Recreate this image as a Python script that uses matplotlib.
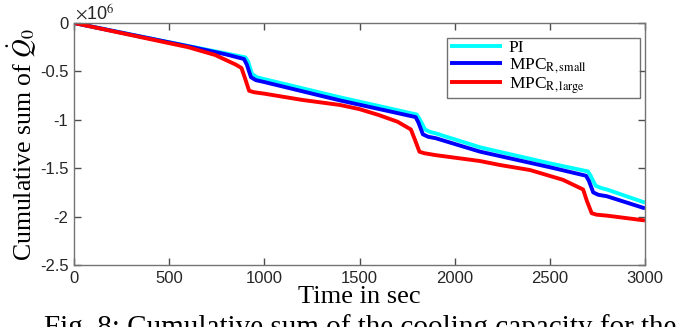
import matplotlib
matplotlib.use("Agg")
import matplotlib.pyplot as plt
import numpy as np

plt.rcParams['mathtext.fontset'] = 'stix'

# values in units of 1e6
t_pi = [0, 300, 600, 800, 900, 915, 935, 960, 1000, 1398, 1800, 1815, 1844, 1870, 1900, 2133, 2500, 2700, 2715, 2740, 2770, 2800, 3000]
q_pi = [0, -0.12, -0.238, -0.315, -0.355, -0.40, -0.525, -0.56, -0.58, -0.768, -0.945, -0.99, -1.10, -1.125, -1.14, -1.284, -1.45, -1.533, -1.58, -1.68, -1.705, -1.72, -1.856]

t_small = [0, 300, 600, 800, 893, 908, 930, 955, 1000, 1398, 1795, 1810, 1833, 1860, 1900, 2133, 2500, 2690, 2705, 2728, 2755, 2800, 3000]
q_small = [0, -0.12, -0.24, -0.325, -0.372, -0.43, -0.56, -0.59, -0.61, -0.80, -0.972, -1.03, -1.15, -1.175, -1.19, -1.329, -1.49, -1.578, -1.63, -1.75, -1.775, -1.79, -1.915]

t_large = [0, 300, 600, 741, 850, 880, 900, 920, 945, 1000, 1200, 1398, 1500, 1600, 1700, 1770, 1790, 1815, 1840, 1900, 2133, 2238, 2396, 2569, 2675, 2695, 2720, 2745, 2800, 3000]
q_large = [0, -0.125, -0.25, -0.33, -0.43, -0.465, -0.58, -0.70, -0.715, -0.73, -0.795, -0.847, -0.89, -0.95, -1.02, -1.10, -1.20, -1.33, -1.345, -1.365, -1.426, -1.467, -1.519, -1.62, -1.72, -1.84, -1.965, -1.98, -1.99, -2.04]

labels = ['PI', r'MPC$_{\mathrm{R,small}}$', r'MPC$_{\mathrm{R,large}}$']
colors = ['#00FFFF', '#0000FF', '#FF0000']

xticks = [0, 500, 1000, 1500, 2000, 2500, 3000]
yticks = [0, -0.5, -1, -1.5, -2, -2.5]
yticklabels = ['0', '-0.5', '-1', '-1.5', '-2', '-2.5']

fig = plt.figure(figsize=(6.92, 3.27), dpi=100)
ax = fig.add_axes([74/692, 1-265/327, (645-74)/692, (265-23)/327])

for t, q, lab, c in zip([t_pi, t_small, t_large], [q_pi, q_small, q_large], labels, colors):
    ax.plot(t, q, color=c, lw=2.8, label=lab, solid_joinstyle='round', solid_capstyle='butt')

ax.set_xlim(0, 3000)
ax.set_ylim(-2.5, 0)
ax.set_xticks(xticks)
ax.set_yticks(yticks)
ax.set_yticklabels(yticklabels)
for lbl in ax.get_xticklabels() + ax.get_yticklabels():
    lbl.set_fontfamily('Liberation Sans')
    lbl.set_fontsize(12)
ax.tick_params(direction='in', top=True, right=True, length=5, width=1, colors='0.3',
               labelcolor='#262626', pad=4)
for s in ax.spines.values():
    s.set_color('0.45')
    s.set_linewidth(1)

ax.set_xlabel('Time in sec', family='Liberation Serif', fontsize=19, labelpad=0)
ax.set_ylabel(r'Cumulative sum of $\dot{Q}_0$', family='Liberation Serif', fontsize=18.5, labelpad=1)

ax.text(0.002, 1.0, r'$\times$10$^{6}$', transform=ax.transAxes, ha='left', va='bottom',
        family='Liberation Sans', fontsize=13, color='#262626')

leg = ax.legend(loc='upper left', bbox_to_anchor=((447-74)/571, 1-(40-23)/242, (640-447)/571, 0.01),
                mode='expand', prop=dict(family='Liberation Serif', size=12.5), frameon=True,
                fancybox=False, edgecolor='0.3', handlelength=3.0, borderaxespad=0,
                labelspacing=0.0, handletextpad=0.4, borderpad=0.15)
leg.get_frame().set_linewidth(1)

fig.text(360/692, 1-314/327, 'Fig. 8: Cumulative sum of the cooling capacity for the',
         ha='center', va='top', family='Liberation Serif', fontsize=21)

fig.savefig('out.png', dpi=100)
